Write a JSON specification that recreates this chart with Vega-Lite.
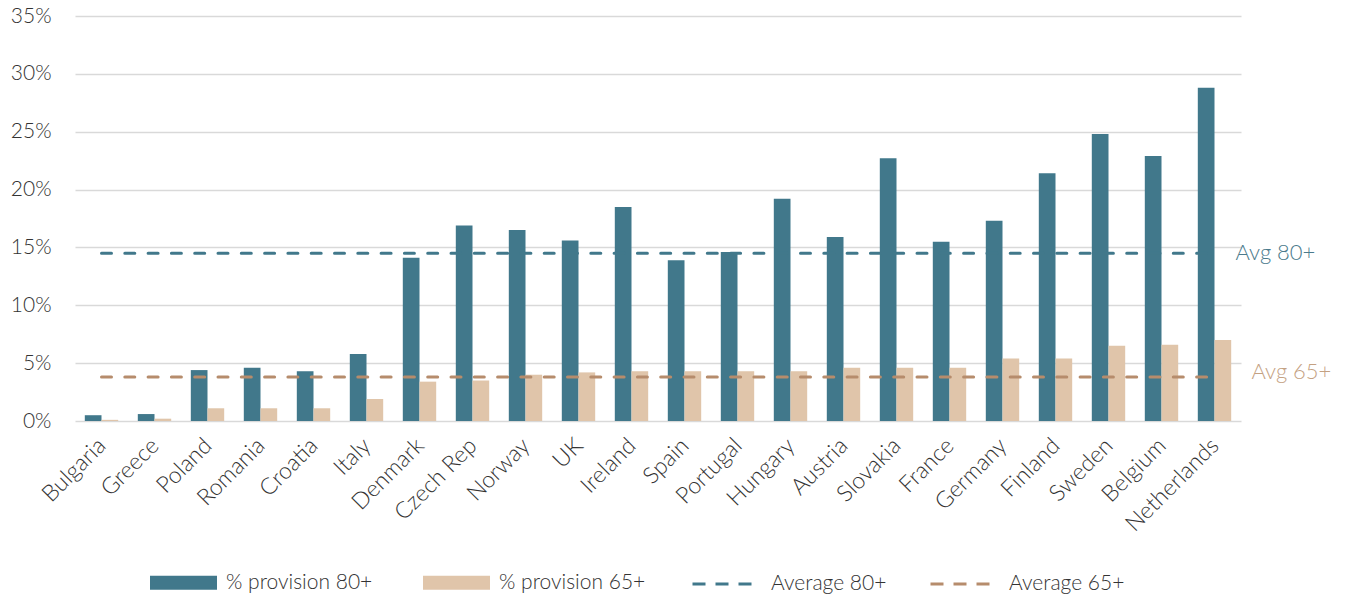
{
  "$schema": "https://vega.github.io/schema/vega-lite/v6.json",
  "width": 1166,
  "height": 405,
  "autosize": {"type": "none"},
  "padding": {"left": 75, "top": 16, "right": 108, "bottom": 175},
  "background": "white",
  "config": {
    "view": {"stroke": null},
    "font": "Lato",
    "text": {"font": "Lato"}
  },
  "datasets": {
    "provision": [
      {"country": "Bulgaria", "series": "% provision 80+", "value": 0.5},
      {"country": "Bulgaria", "series": "% provision 65+", "value": 0.1},
      {"country": "Greece", "series": "% provision 80+", "value": 0.6},
      {"country": "Greece", "series": "% provision 65+", "value": 0.2},
      {"country": "Poland", "series": "% provision 80+", "value": 4.4},
      {"country": "Poland", "series": "% provision 65+", "value": 1.1},
      {"country": "Romania", "series": "% provision 80+", "value": 4.6},
      {"country": "Romania", "series": "% provision 65+", "value": 1.1},
      {"country": "Croatia", "series": "% provision 80+", "value": 4.3},
      {"country": "Croatia", "series": "% provision 65+", "value": 1.1},
      {"country": "Italy", "series": "% provision 80+", "value": 5.8},
      {"country": "Italy", "series": "% provision 65+", "value": 1.9},
      {"country": "Denmark", "series": "% provision 80+", "value": 14.1},
      {"country": "Denmark", "series": "% provision 65+", "value": 3.4},
      {"country": "Czech Rep", "series": "% provision 80+", "value": 16.9},
      {"country": "Czech Rep", "series": "% provision 65+", "value": 3.5},
      {"country": "Norway", "series": "% provision 80+", "value": 16.5},
      {"country": "Norway", "series": "% provision 65+", "value": 4.0},
      {"country": "UK", "series": "% provision 80+", "value": 15.6},
      {"country": "UK", "series": "% provision 65+", "value": 4.2},
      {"country": "Ireland", "series": "% provision 80+", "value": 18.5},
      {"country": "Ireland", "series": "% provision 65+", "value": 4.3},
      {"country": "Spain", "series": "% provision 80+", "value": 13.9},
      {"country": "Spain", "series": "% provision 65+", "value": 4.3},
      {"country": "Portugal", "series": "% provision 80+", "value": 14.6},
      {"country": "Portugal", "series": "% provision 65+", "value": 4.3},
      {"country": "Hungary", "series": "% provision 80+", "value": 19.2},
      {"country": "Hungary", "series": "% provision 65+", "value": 4.3},
      {"country": "Austria", "series": "% provision 80+", "value": 15.9},
      {"country": "Austria", "series": "% provision 65+", "value": 4.6},
      {"country": "Slovakia", "series": "% provision 80+", "value": 22.7},
      {"country": "Slovakia", "series": "% provision 65+", "value": 4.6},
      {"country": "France", "series": "% provision 80+", "value": 15.5},
      {"country": "France", "series": "% provision 65+", "value": 4.6},
      {"country": "Germany", "series": "% provision 80+", "value": 17.3},
      {"country": "Germany", "series": "% provision 65+", "value": 5.4},
      {"country": "Finland", "series": "% provision 80+", "value": 21.4},
      {"country": "Finland", "series": "% provision 65+", "value": 5.4},
      {"country": "Sweden", "series": "% provision 80+", "value": 24.8},
      {"country": "Sweden", "series": "% provision 65+", "value": 6.5},
      {"country": "Belgium", "series": "% provision 80+", "value": 22.9},
      {"country": "Belgium", "series": "% provision 65+", "value": 6.6},
      {"country": "Netherlands", "series": "% provision 80+", "value": 28.8},
      {"country": "Netherlands", "series": "% provision 65+", "value": 7.0}
    ],
    "averages": [
      {"country": "Bulgaria", "series": "Average 80+", "value": 14.5, "label": ""},
      {"country": "Netherlands", "series": "Average 80+", "value": 14.5, "label": "Avg 80+"},
      {"country": "Bulgaria", "series": "Average 65+", "value": 3.8, "label": ""},
      {"country": "Netherlands", "series": "Average 65+", "value": 3.8, "label": "Avg 65+"}
    ]
  },
  "layer": [
    {
      "data": {"name": "provision"},
      "mark": {"type": "bar"},
      "encoding": {
        "x": {
          "field": "country",
          "type": "nominal",
          "sort": null,
          "scale": {
            "domain": ["Bulgaria", "Greece", "Poland", "Romania", "Croatia", "Italy", "Denmark", "Czech Rep", "Norway", "UK", "Ireland", "Spain", "Portugal", "Hungary", "Austria", "Slovakia", "France", "Germany", "Finland", "Sweden", "Belgium", "Netherlands"],
            "paddingInner": 0.37,
            "paddingOuter": 0.185
          },
          "axis": {
            "title": null,
            "domain": false,
            "ticks": false,
            "labelAngle": -45,
            "labelFontSize": 23,
            "labelColor": "#333333",
            "labelPadding": 13,
            "labelOffset": -7,
            "labelFont": "Lato",
            "labelFontWeight": 300
          }
        },
        "y": {
          "field": "value",
          "type": "quantitative",
          "scale": {"domain": [0, 35], "nice": false},
          "axis": {
            "title": null,
            "domain": false,
            "ticks": false,
            "grid": true,
            "gridColor": "#d9d9d9",
            "gridWidth": 1.5,
            "values": [0, 5, 10, 15, 20, 25, 30, 35],
            "labelExpr": "datum.value + '%'",
            "labelFontSize": 21,
            "labelColor": "#333333",
            "labelPadding": 24,
            "labelFont": "Lato",
            "labelFontWeight": 300
          }
        },
        "xOffset": {
          "field": "series",
          "type": "nominal",
          "sort": ["% provision 80+", "% provision 65+"],
          "scale": {"paddingInner": 0, "paddingOuter": 0}
        },
        "color": {
          "field": "series",
          "type": "nominal",
          "scale": {
            "domain": ["% provision 80+", "% provision 65+"],
            "range": ["#41788b", "#e0c5aa"]
          },
          "legend": {
            "title": null,
            "orient": "none",
            "legendX": 75,
            "legendY": 533,
            "direction": "horizontal",
            "columnPadding": 50,
            "symbolSize": 4489,
            "symbolType": "M-1,-0.21L1,-0.21L1,0.21L-1,0.21Z",
            "symbolStrokeWidth": 0,
            "labelFontSize": 21,
            "labelFont": "Lato",
            "labelFontWeight": 300,
            "labelColor": "#333333",
            "labelOffset": 9,
            "labelLimit": 400
          }
        }
      }
    },
    {
      "data": {"name": "averages"},
      "mark": {"type": "line", "strokeWidth": 3, "strokeDash": [10, 13.3], "strokeCap": "round"},
      "encoding": {
        "x": {"field": "country", "type": "nominal", "sort": null},
        "y": {"field": "value", "type": "quantitative"},
        "stroke": {
          "field": "series",
          "type": "nominal",
          "scale": {
            "domain": ["Average 80+", "Average 65+"],
            "range": ["#41788b", "#b68c6c"]
          },
          "legend": {
            "title": null,
            "orient": "none",
            "legendX": 616,
            "legendY": 537,
            "direction": "horizontal",
            "columnPadding": 37,
            "symbolType": "stroke",
            "symbolSize": 3481,
            "symbolStrokeWidth": 3,
            "symbolDash": [13, 10],
            "labelFontSize": 21,
            "labelFont": "Lato",
            "labelFontWeight": 300,
            "labelColor": "#333333",
            "labelOffset": 18,
            "labelLimit": 400
          }
        }
      }
    },
    {
      "data": {"name": "averages"},
      "transform": [{"filter": "datum.label === 'Avg 80+'"}],
      "mark": {"type": "text", "align": "left", "baseline": "middle", "dx": 21, "fontSize": 22, "fontWeight": 300, "color": "#4a7a8c"},
      "encoding": {
        "x": {"field": "country", "type": "nominal", "sort": null},
        "y": {"field": "value", "type": "quantitative"},
        "text": {"field": "label", "type": "nominal"}
      }
    },
    {
      "data": {"name": "averages"},
      "transform": [{"filter": "datum.label === 'Avg 65+'"}],
      "mark": {"type": "text", "align": "left", "baseline": "middle", "dx": 37, "dy": -5, "fontSize": 22, "fontWeight": 300, "color": "#c4a182"},
      "encoding": {
        "x": {"field": "country", "type": "nominal", "sort": null},
        "y": {"field": "value", "type": "quantitative"},
        "text": {"field": "label", "type": "nominal"}
      }
    }
  ]
}
